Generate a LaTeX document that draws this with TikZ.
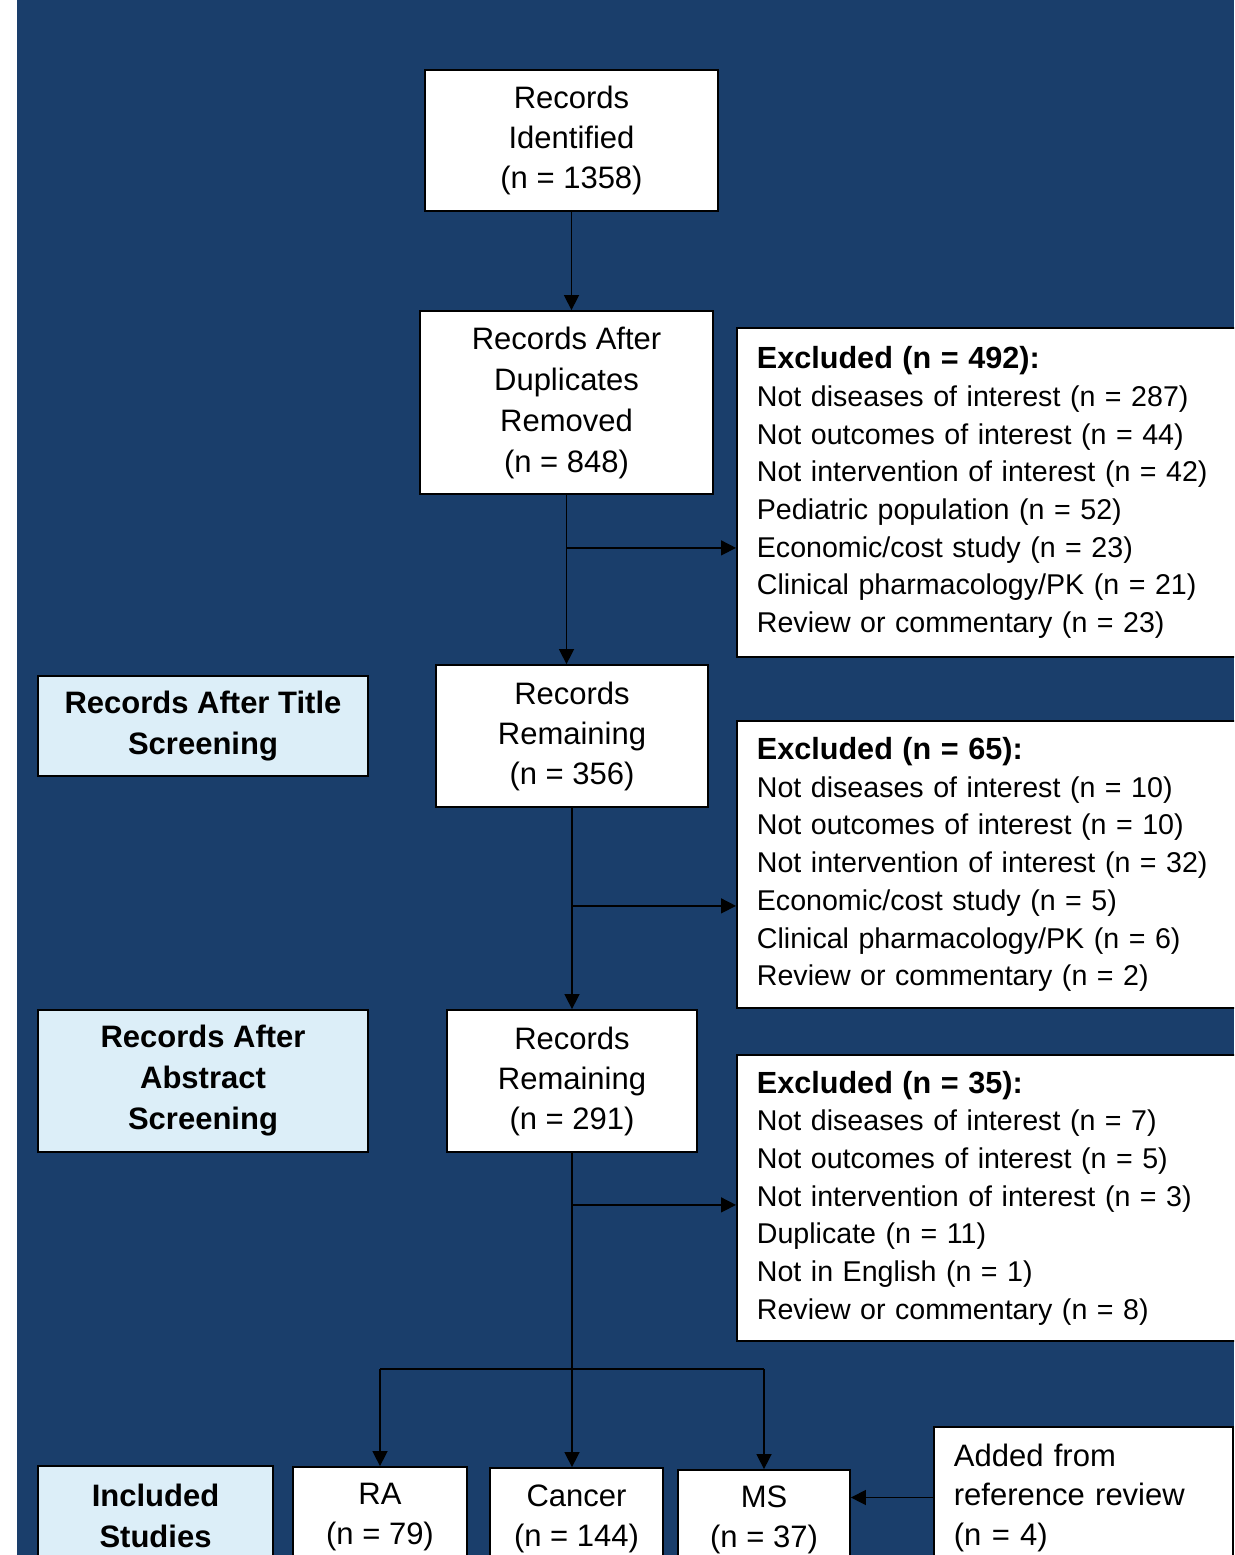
\documentclass[tikz,border=0pt]{standalone}
\usepackage{fontspec}
\setmainfont{Liberation Sans}
\usepackage{tikz}
\usetikzlibrary{arrows.meta, positioning, calc}
\definecolor{navycolor}{HTML}{1A3E6B}
\definecolor{skycolor}{HTML}{DCEEF8}

\begin{document}
\begin{tikzpicture}[x=1pt, y=-1pt,
  box/.style={rectangle, draw=black, line width=1.8pt, fill=white, align=center,
    inner sep=0pt, font=\fontsize{31}{40}\selectfont},
  stage/.style={box, fill=skycolor, font=\fontsize{31}{41}\selectfont\bfseries},
  exclbox/.style={box, anchor=west, align=left, text width=480pt, inner xsep=20pt,
    font=\fontsize{28.6}{37.7}\selectfont},
  link/.style={line width=1.5pt},
  arr/.style={link, -{Triangle[length=15pt, width=15pt]}}]

  \clip (0,0) rectangle (1234,1555);
  \fill[white] (0,0) rectangle (1234,1555);
  \fill[navycolor] (17,0) rectangle (1234,1555);

  % main column
  \node[box, minimum width=293pt, minimum height=141pt] (ident) at (571.5,140.5)
    {Records\\Identified\\(n = 1358)};
  \node[box, minimum width=293pt, minimum height=183pt, font=\fontsize{31}{41}\selectfont]
    (dedup) at (566.5,402.5) {Records After\\Duplicates\\Removed\\(n = 848)};
  \node[box, minimum width=272pt, minimum height=142pt] (rem1) at (572,736)
    {Records\\Remaining\\(n = 356)};
  \node[box, minimum width=250pt, minimum height=142pt] (rem2) at (572,1081)
    {Records\\Remaining\\(n = 291)};

  % stage labels
  \node[stage, minimum width=330pt, minimum height=100pt] (title) at (203,726)
    {Records After Title\\Screening};
  \node[stage, minimum width=330pt, minimum height=142pt] (abstr) at (203,1081)
    {Records After\\Abstract\\Screening};
  \node[stage, minimum width=235pt, minimum height=100pt] (incl) at (155.5,1516)
    {Included\\Studies};

  % exclusions
  \node[exclbox, minimum height=329pt] (excl1) at (736,492.5)
    {{\fontsize{30.6}{38}\selectfont\bfseries Excluded (n = 492):}\\
     Not diseases of interest (n = 287)\\
     Not outcomes of interest (n = 44)\\
     Not intervention of interest (n = 42)\\
     Pediatric population (n = 52)\\
     Economic/cost study (n = 23)\\
     Clinical pharmacology/PK (n = 21)\\
     Review or commentary (n = 23)};
  \node[exclbox, minimum height=287pt] (excl2) at (736,864.5)
    {{\fontsize{30.6}{38}\selectfont\bfseries Excluded (n = 65):}\\
     Not diseases of interest (n = 10)\\
     Not outcomes of interest (n = 10)\\
     Not intervention of interest (n = 32)\\
     Economic/cost study (n = 5)\\
     Clinical pharmacology/PK (n = 6)\\
     Review or commentary (n = 2)};
  \node[exclbox, minimum height=286pt] (excl3) at (736,1198)
    {{\fontsize{30.6}{38}\selectfont\bfseries Excluded (n = 35):}\\
     Not diseases of interest (n = 7)\\
     Not outcomes of interest (n = 5)\\
     Not intervention of interest (n = 3)\\
     Duplicate (n = 11)\\
     Not in English (n = 1)\\
     Review or commentary (n = 8)};

  % included studies
  \node[box, minimum width=174pt, minimum height=101pt] (ra) at (380,1517.5)
    {RA\\(n = 79)};
  \node[box, minimum width=173pt, minimum height=102pt] (cancer) at (576.5,1519)
    {Cancer\\(n = 144)};
  \node[box, minimum width=172pt, minimum height=99pt] (ms) at (764,1519.5)
    {MS\\(n = 37)};
  \node[box, anchor=west, align=left, text width=259pt, inner xsep=20pt,
    minimum height=141pt, font=\fontsize{31}{39.5}\selectfont] (added) at (933,1497.5)
    {Added from\\reference review\\(n = 4)};

  % connectors
  \draw[arr] (ident.south) -- (ident.south |- dedup.north);
  \draw[arr] (dedup.south) -- (dedup.south |- rem1.north);
  \coordinate (j1) at ($(dedup.south)+(0,53)$);
  \draw[arr] (j1) -- (j1 -| excl1.west);
  \draw[arr] (rem1.south) -- (rem1.south |- rem2.north);
  \coordinate (j2) at ($(rem1.south)+(0,98)$);
  \draw[arr] (j2) -- (j2 -| excl2.west);
  \draw[arr] (rem2.south) -- (rem2.south |- cancer.north);
  \coordinate (j3) at ($(rem2.south)+(0,52)$);
  \draw[arr] (j3) -- (j3 -| excl3.west);
  \coordinate (split) at ($(rem2.south)+(0,216)$);
  \draw[link] (ra.north |- split) -- (ms.north |- split);
  \draw[arr] (ra.north |- split) -- (ra.north);
  \draw[arr] (ms.north |- split) -- (ms.north);
  \draw[arr] (added.west) -- (added.west -| ms.east);
\end{tikzpicture}
\end{document}
